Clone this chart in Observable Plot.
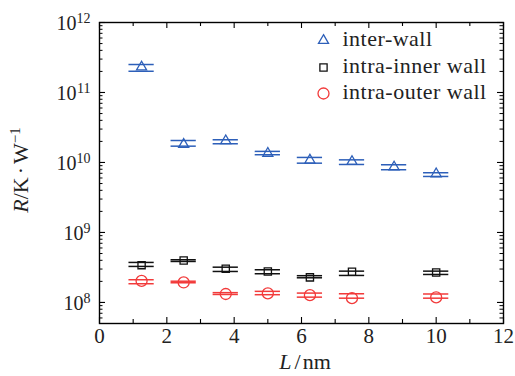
<!DOCTYPE html>
<html><head><meta charset="utf-8">
<script src="https://cdn.jsdelivr.net/npm/d3@7"></script>
<script src="https://cdn.jsdelivr.net/npm/@observablehq/plot@0.6"></script>
<style>
body{margin:0;background:#fff}
#chart{width:515px;height:376px}
</style>
</head><body><div id="chart"></div>
<script>
// ---- data ----
const L_inter  = [1.25, 2.5, 3.75, 5, 6.25, 7.5, 8.75, 10];
const R_inter  = [2.31e11, 1.81e10, 2.04e10, 1.35e10, 1.08e10, 1.03e10, 8.6e9, 6.88e9];
const R_inter_hi = [2.51e11, 2.06e10, 2.11e10, 1.44e10, 1.18e10, 1.09e10, 9.27e9, 7.13e9];
const R_inter_lo = [2.01e11, 1.71e10, 1.85e10, 1.29e10, 9.77e9, 9.36e9, 7.87e9, 6.31e9];

const L_intra  = [1.25, 2.5, 3.75, 5, 6.25, 7.5, 10];
const R_inner  = [3.41e8, 3.98e8, 3.03e8, 2.77e8, 2.28e8, 2.75e8, 2.68e8];
const R_inner_hi = [3.73e8, 4.07e8, 3.19e8, 2.93e8, 2.41e8, 2.80e8, 2.80e8];
const R_inner_lo = [3.27e8, 3.85e8, 2.77e8, 2.57e8, 2.25e8, 2.43e8, 2.51e8];
const R_outer  = [2.03e8, 1.93e8, 1.32e8, 1.35e8, 1.27e8, 1.15e8, 1.18e8];
const R_outer_hi = [2.11e8, 2.01e8, 1.38e8, 1.44e8, 1.36e8, 1.33e8, 1.32e8];
const R_outer_lo = [1.85e8, 1.91e8, 1.30e8, 1.29e8, 1.19e8, 1.15e8, 1.15e8];

const seriesNames = ["inter-wall", "intra-inner wall", "intra-outer wall"];
const xTicks = [0, 2, 4, 6, 8, 10, 12];
const xMinorTicks = [1, 3, 5, 7, 9, 11];
const yTicks = [1e8, 1e9, 1e10, 1e11, 1e12];
const yMinorTicks = [];
for (let k = 7; k <= 11; k++) for (let m = 2; m <= 9; m++) { const v = m * 10 ** k; if (v >= 5e7 && v < 1e12) yMinorTicks.push(v); }

// ---- build tables ----
const inter = L_inter.map((L, i) => ({L, R: R_inter[i], hi: R_inter_hi[i], lo: R_inter_lo[i]}));
const inner = L_intra.map((L, i) => ({L, R: R_inner[i], hi: R_inner_hi[i], lo: R_inner_lo[i]}));
const outer = L_intra.map((L, i) => ({L, R: R_outer[i], hi: R_outer_hi[i], lo: R_outer_lo[i]}));

const W = 515, H = 376, mL = 99, mR = 12, mT = 22, mB = 53;
const fw = W - mL - mR, fh = H - mT - mB;
const BLUE = "#2d5fb9", BLACK = "#111", RED = "#f23a3a";
const HW = 0.375;
const FONT = "'Liberation Serif', 'DejaVu Serif', serif";

function series(data, color, symbol, r) {
  return [
    Plot.ruleY(data, {y: "hi", x1: d => d.L - HW, x2: d => d.L + HW, stroke: color, strokeWidth: 1.5}),
    Plot.ruleY(data, {y: "lo", x1: d => d.L - HW, x2: d => d.L + HW, stroke: color, strokeWidth: 1.5}),
    Plot.dot(data, {x: "L", y: "R", symbol, r, stroke: color, fill: "none", strokeWidth: 1.3})
  ];
}

const expOf = v => String(Math.round(Math.log10(v)));
const legendSym = [["triangle2", BLUE, 4.8], ["square2", BLACK, 4.6], ["circle", RED, 5.5]];
const legendDy = [16.5, 43.5, 69.5];

const plot = Plot.plot({
  width: W, height: H,
  marginLeft: mL, marginRight: mR, marginTop: mT, marginBottom: mB,
  style: {fontFamily: FONT, background: "#fff", color: "#222"},
  x: {domain: [0, 12], axis: null},
  y: {type: "log", domain: [5e7, 1e12], axis: null},
  marks: [
    Plot.ruleX(xTicks, {x: d => d, insetTop: fh - 6, stroke: "#000", strokeWidth: 1.1}),
    Plot.ruleX(xTicks, {x: d => d, insetBottom: fh - 6, stroke: "#000", strokeWidth: 1.1}),
    Plot.ruleX(xMinorTicks, {x: d => d, insetTop: fh - 4, stroke: "#000", strokeWidth: 1.1}),
    Plot.ruleX(xMinorTicks, {x: d => d, insetBottom: fh - 4, stroke: "#000", strokeWidth: 1.1}),
    Plot.ruleY(yTicks, {y: d => d, insetRight: fw - 6, stroke: "#000", strokeWidth: 1.1}),
    Plot.ruleY(yTicks, {y: d => d, insetLeft: fw - 6, stroke: "#000", strokeWidth: 1.1}),
    Plot.ruleY(yMinorTicks, {y: d => d, insetRight: fw - 3.5, stroke: "#000", strokeWidth: 1}),
    Plot.ruleY(yMinorTicks, {y: d => d, insetLeft: fw - 3.5, stroke: "#000", strokeWidth: 1}),
    Plot.frame({stroke: "#000", strokeWidth: 1.4}),
    // x tick labels
    Plot.axisX(xTicks, {tickSize: 0, tickPadding: 5, fontSize: 21, fill: "#222", label: null}),
    // y tick labels 10^n
    Plot.text(yTicks, {filter: d => expOf(d).length === 2, y: d => d, text: () => "10", frameAnchor: "left",
      textAnchor: "end", dx: -23, dy: 1, fontSize: 20, fill: "#222"}),
    Plot.text(yTicks, {filter: d => expOf(d).length === 1, y: d => d, text: () => "10", frameAnchor: "left",
      textAnchor: "end", dx: -16, dy: 1, fontSize: 20, fill: "#222"}),
    Plot.text(yTicks, {y: d => d, text: expOf, frameAnchor: "left", textAnchor: "end",
      dx: -9, dy: -4, fontSize: 14, fill: "#222"}),
    // data
    ...series(inter, BLUE, "triangle2", 4.8),
    ...series(inner, BLACK, "square2", 4.6),
    ...series(outer, RED, "circle", 5.5),
    // legend
    ...seriesNames.flatMap((name, i) => [
      Plot.dot([name], {frameAnchor: "top-left", dx: 224, dy: legendDy[i] + 1.5, symbol: legendSym[i][0],
        r: legendSym[i][2], stroke: legendSym[i][1], fill: "none", strokeWidth: 1.3}),
      Plot.text([name], {text: d => d, frameAnchor: "top-left", lineAnchor: "middle", dx: 243, dy: legendDy[i],
        textAnchor: "start", fontSize: 22, fill: "#222", style: "letter-spacing:0.5px"})
    ])
  ]
});
document.getElementById("chart").appendChild(plot);
d3.select(plot).selectAll("text").filter(function () { return seriesNames.includes(this.textContent); })
  .attr("letter-spacing", "0.5px");

// axis titles with italic symbols and superscript
const svg = d3.select(plot);
const yl = svg.append("text")
  .attr("transform", "translate(28,170) rotate(-90)")
  .attr("text-anchor", "middle")
  .attr("font-family", FONT).attr("font-size", 22).attr("fill", "#222");
yl.append("tspan").attr("font-style", "italic").text("R");
yl.append("tspan").text("/K");
yl.append("tspan").attr("dx", 3).text("·");
yl.append("tspan").attr("dx", 3).text("W");
yl.append("tspan").attr("font-size", 15).attr("dy", -8).text("−1");

const xl = svg.append("text")
  .attr("x", 305).attr("y", 369)
  .attr("text-anchor", "middle")
  .attr("font-family", FONT).attr("font-size", 22).attr("fill", "#222");
xl.append("tspan").attr("font-style", "italic").text("L");
xl.append("tspan").attr("dx", 3).text("/");
xl.append("tspan").attr("dx", 2).text("nm");
</script></body></html>
